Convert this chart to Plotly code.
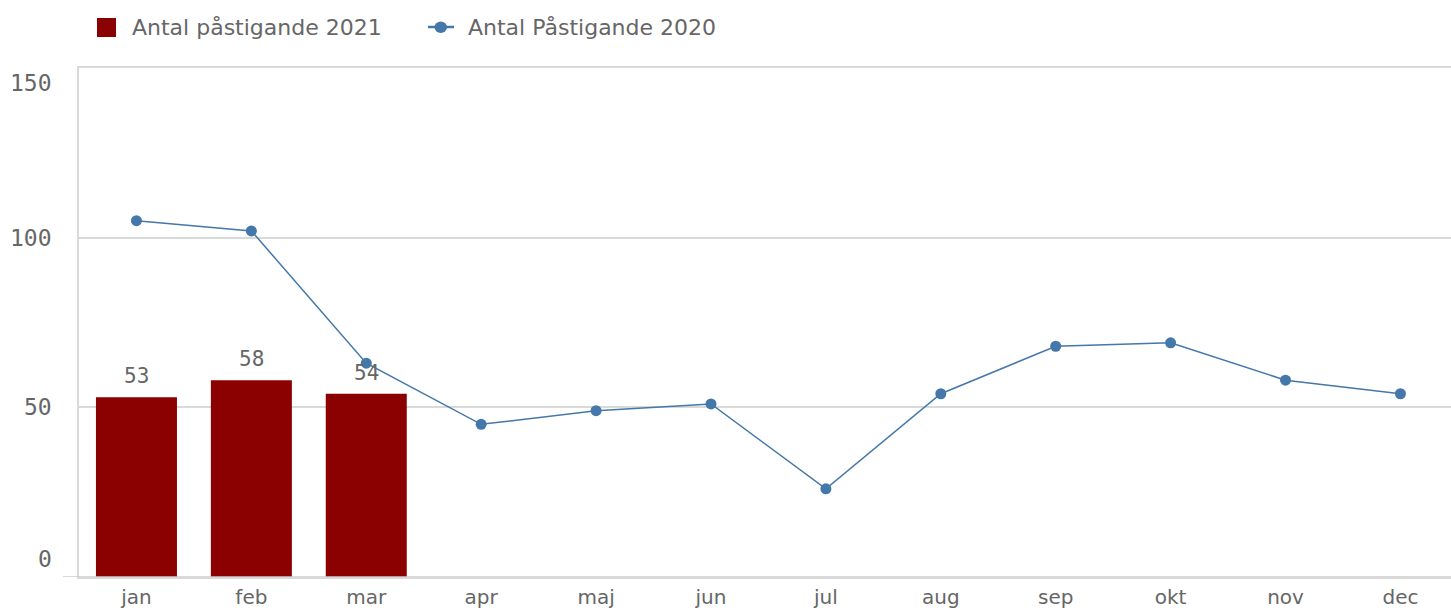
import plotly.graph_objects as go

months = ["jan", "feb", "mar", "apr", "maj", "jun", "jul", "aug", "sep", "okt", "nov", "dec"]
bar_name = "Antal påstigande 2021"
bar_values = [53, 58, 54]
line_name = "Antal Påstigande 2020"
line_values = [105, 102, 63, 45, 49, 51, 26, 54, 68, 69, 58, 54]
y_ticks = [0, 50, 100, 150]
y_tick_labels = ["0", "50", "100", "150"]

BAR_COLOR = "#8b0000"
LINE_COLOR = "#4477aa"
TEXT_COLOR = "#666666"
GRID_COLOR = "#d9d9d9"
NUM_FONT = "DejaVu Sans Mono"
TXT_FONT = "DejaVu Sans"

W, H = 1451, 610
ML, MR, MT, MB = 79, 0, 68, 33
PW, PH = W - ML - MR, H - MT - MB


def px2x(px):
    return (px - ML) / PW


def py2y(py):
    return (H - MB - py) / PH


fig = go.Figure()
fig.add_trace(go.Bar(
    x=months[:len(bar_values)], y=bar_values, name=bar_name,
    marker=dict(color=BAR_COLOR, line=dict(width=0)),
    showlegend=False,
))
fig.add_trace(go.Scatter(
    x=months, y=line_values, name=line_name, mode="lines+markers",
    line=dict(color=LINE_COLOR, width=1.5),
    marker=dict(color=LINE_COLOR, size=11),
    showlegend=False,
))

annotations = []
# bar value labels
for m, v in zip(months, bar_values):
    annotations.append(dict(
        x=m, y=v, xref="x", yref="y", text=str(v), showarrow=False,
        yanchor="bottom", yshift=7,
        font=dict(family=NUM_FONT, size=21, color=TEXT_COLOR),
    ))
# y tick labels (first/last pulled inside like the original)
for t, lab in zip(y_ticks, y_tick_labels):
    shift = 0
    if t == y_ticks[0]:
        shift = 18
    elif t == y_ticks[-1]:
        shift = -15
    annotations.append(dict(
        x=px2x(54), y=t, xref="paper", yref="y", text=lab, showarrow=False,
        xanchor="right", yanchor="middle", yshift=shift,
        font=dict(family=NUM_FONT, size=23, color=TEXT_COLOR),
    ))
# custom legend text
annotations.append(dict(
    x=px2x(130), y=py2y(27), xref="paper", yref="paper", text=bar_name,
    showarrow=False, xanchor="left", yanchor="middle",
    font=dict(family=TXT_FONT, size=22, color=TEXT_COLOR),
))
annotations.append(dict(
    x=px2x(466), y=py2y(27), xref="paper", yref="paper", text=line_name,
    showarrow=False, xanchor="left", yanchor="middle",
    font=dict(family=TXT_FONT, size=22, color=TEXT_COLOR),
))

shapes = [
    # baseline extending past the y axis
    dict(type="line", xref="paper", yref="y", x0=px2x(63), x1=1, y0=0, y1=0,
         line=dict(color="#cccccc", width=1.5), layer="above"),
    # legend: bar swatch
    dict(type="rect", xref="paper", yref="paper",
         x0=px2x(97), x1=px2x(116), y0=py2y(37), y1=py2y(18),
         fillcolor=BAR_COLOR, line=dict(width=0)),
    # legend: line swatch
    dict(type="line", xref="paper", yref="paper",
         x0=px2x(428), x1=px2x(454), y0=py2y(27), y1=py2y(27),
         line=dict(color=LINE_COLOR, width=2.5)),
    dict(type="circle", xref="paper", yref="paper",
         x0=px2x(434.5), x1=px2x(447), y0=py2y(33), y1=py2y(21.5),
         fillcolor=LINE_COLOR, line=dict(width=0)),
]

fig.update_layout(
    width=W, height=H,
    margin=dict(l=ML, r=MR, t=MT, b=MB, autoexpand=False),
    plot_bgcolor="white", paper_bgcolor="white",
    bargap=0.295,
    showlegend=False,
    annotations=annotations,
    shapes=shapes,
)
fig.update_xaxes(
    type="category", categoryorder="array", categoryarray=months,
    range=[-0.5, 11.44], showgrid=False, zeroline=False,
    showline=True, mirror=True, linecolor=GRID_COLOR, linewidth=1.5,
    ticks="", ticklabelstandoff=1, automargin=False,
    tickfont=dict(family=TXT_FONT, size=20, color=TEXT_COLOR),
)
fig.update_yaxes(
    range=[0, 150], tickvals=y_ticks, showticklabels=False,
    showgrid=True, gridcolor=GRID_COLOR, gridwidth=1.5,
    showline=True, linecolor=GRID_COLOR, linewidth=1.5, mirror=False,
    zeroline=False, automargin=False,
)

fig.write_html(
    "out.html",
    config={"displayModeBar": False},
    post_script="document.body.style.margin='0';document.body.style.overflow='hidden';",
)
